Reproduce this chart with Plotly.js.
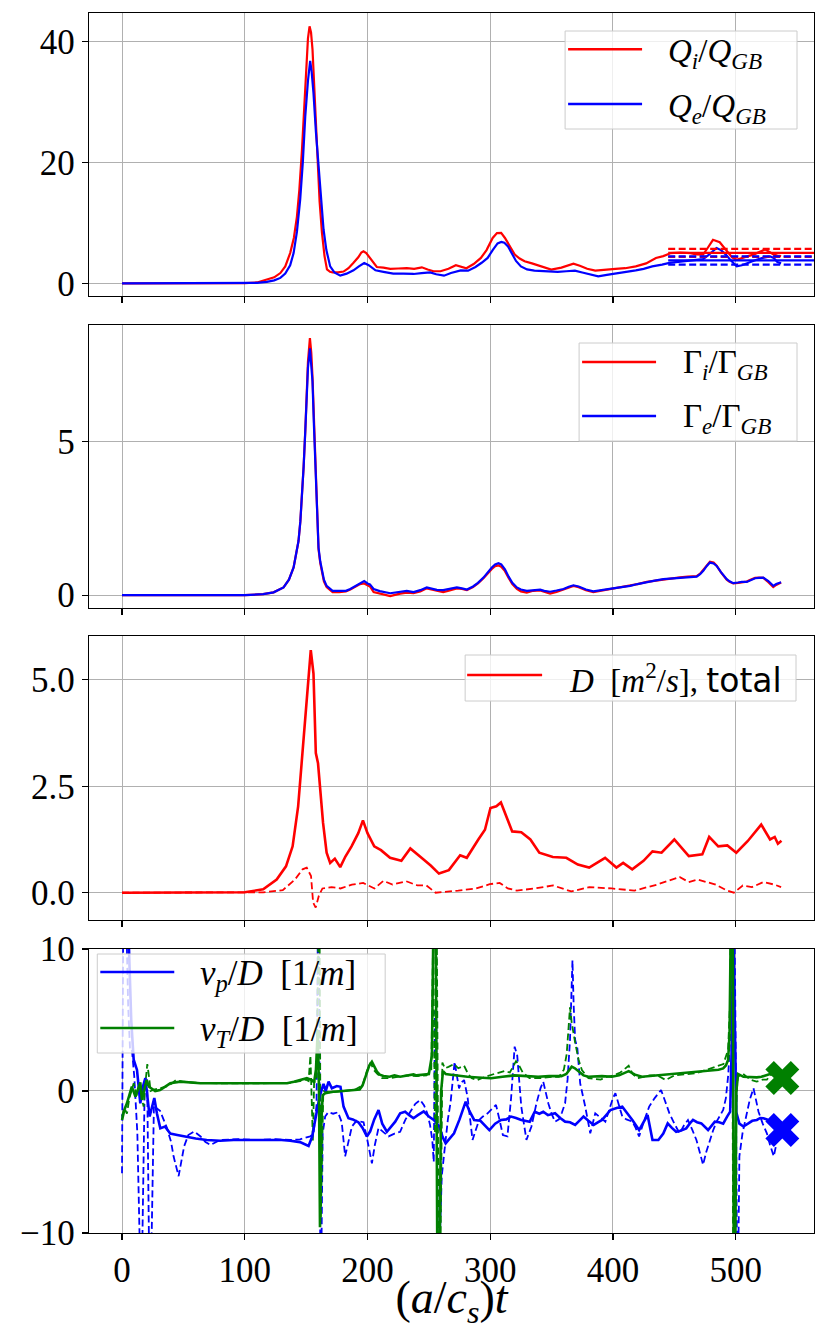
<!DOCTYPE html>
<html><head><meta charset="utf-8">
<script src="https://cdn.plot.ly/plotly-3.0.1.min.js"></script>
<style>body{margin:0;background:#fff}#chart{width:830px;height:1330px}</style>
</head><body><div id="chart"></div>
<script>
// ---------- Panel 1: heat fluxes ----------
const tQi = [0,50,100,110,118,124,129,133,137,140,142.5,144.5,146.6,148.5,150,151.5,152.8,154,155.2,157,158.8,161,162.9,165,167,169.5,171.6,176,180.5,184.5,188.6,192.5,195,196.7,199,202,205,207.6,213,218.5,225,232,238,244.3,249,253.8,259.5,266,272,276,280.6,286.5,292.4,297,302,305.5,308.9,312,316,320,324,328,334,341.5,349.7,358,363,367.8,373,379,385.6,394,402,410,418.6,427,435,441,447.3,455,463,468,473.4,477,481.5,487,490.5,493.7,497,500.8,506,510,514.5,520,524,527.5,531,534,537];
const Qi  = [0,0,0.05,0.15,0.6,1.0,1.7,2.8,5.0,7.5,11,15.5,22,29,36,40.5,42.5,41.5,38.7,31,22,13.5,8.4,4.5,2.3,1.9,1.8,1.8,1.95,2.5,3.4,4.3,5.1,5.3,5.0,4.2,3.3,2.7,2.6,2.4,2.45,2.5,2.4,2.65,2.3,2.0,2.0,2.4,3.0,2.8,2.5,3.2,4.2,5.5,7.5,8.3,8.34,7.5,6.0,4.75,4.1,3.65,3.3,2.8,2.27,2.6,2.9,3.26,2.9,2.4,2.1,2.3,2.38,2.5,2.8,3.3,4.2,4.5,5.0,5.1,5.0,4.8,4.75,5.8,7.2,6.8,5.9,5.0,4.3,3.9,4.3,4.5,4.75,5.3,5.6,5.2,4.75,4.6,4.5];
const tQe = [0,100,110,118,124,129,133,137,139.8,142.5,145.2,147.3,149.3,151.5,153.3,154.5,156,158,160,162,164.2,166.5,169.6,173,177.8,183,188.6,193,197.3,201,206.5,213,221,229,237.6,244,251,256,262.3,268,276,282,288,293,297.9,302,306,309,311.5,314.5,318,321,325,330,336,345,355,362,369,375,382,388,395,402,410,418.6,425,432,440,446,455,465,473.4,478,481.5,484.4,488,492,496,500.8,505,510,517,522,528,531,534,537];
const Qe  = [0,0.02,0.08,0.25,0.5,0.9,1.6,3.0,5.0,8.5,13.9,20,27.6,33.5,36.8,35,31.5,25,19.4,13.5,8.9,5.5,2.8,1.8,1.27,1.6,2.15,2.8,3.37,3.0,2.15,1.9,1.6,1.6,1.55,1.7,1.8,1.5,1.27,1.7,2.15,2.1,2.7,3.4,4.2,5.5,6.6,6.85,6.7,6.1,4.8,3.7,2.8,2.3,2.1,2.0,1.9,2.0,2.1,1.8,1.4,1.16,1.4,1.6,1.9,2.15,2.4,2.8,3.1,3.37,3.6,3.8,4.0,4.7,5.4,5.85,5.5,4.75,3.8,2.8,3.0,3.4,3.9,4.2,4.47,4.2,3.5,3.3];
// time-averaged levels (mean, mean+std, mean-std) over the averaging window
const tAvg = [445,564];
const QiStats = [5.03,5.70,4.37];
const QeStats = [3.81,4.47,3.10];

// ---------- Panel 2: particle fluxes ----------
const tG = [0,100,115,123.5,131.6,136,139.8,142,143.8,145.3,146.6,148,149.3,150.5,151.5,153.1,154.2,155.2,156.3,157.4,158.8,160.1,161.5,162.9,164.5,166.7,171.6,177,182.4,186,190.6,194,197.3,200,202,205,210,218.5,226.6,232,237.5,243,248.3,251,256.5,261.7,267,272.8,277,281,286,290,294.5,298,301.3,304,306.7,309,312,315,318,321.7,325,329.8,335,340.7,344,348.8,354,359.7,364,367.8,372,378,384,390,395,400,407,414,420,427.5,434,441,447,454.6,461,468.2,471,473.6,476.5,479,482,484.5,488,492.7,495,498,502,505,509,512,515.8,519,522.5,526.6,529,530.6,533,536,537];
const Ge = [0,0,0.03,0.09,0.25,0.5,0.9,1.35,1.76,2.4,3.17,4.2,5.33,6.5,7.4,8.04,7.6,6.96,5.6,4.25,2.8,1.55,1.1,0.79,0.5,0.3,0.14,0.14,0.14,0.2,0.3,0.4,0.46,0.38,0.35,0.2,0.13,0.06,0.12,0.14,0.1,0.16,0.25,0.23,0.17,0.16,0.2,0.25,0.22,0.18,0.28,0.4,0.57,0.75,0.9,1.0,1.04,1.0,0.84,0.6,0.4,0.25,0.18,0.14,0.17,0.18,0.14,0.11,0.15,0.2,0.27,0.32,0.28,0.18,0.12,0.15,0.18,0.22,0.26,0.3,0.36,0.43,0.47,0.52,0.54,0.57,0.58,0.6,0.68,0.79,0.95,1.06,1.03,0.95,0.75,0.52,0.45,0.39,0.41,0.43,0.43,0.48,0.55,0.56,0.57,0.46,0.36,0.3,0.36,0.41,0.42];
const Gi = [0,0,0.03,0.09,0.25,0.5,0.9,1.35,1.76,2.4,3.17,4.2,5.33,6.6,7.6,8.37,7.9,7.1,5.7,4.3,2.8,1.5,1.05,0.75,0.45,0.26,0.1,0.1,0.12,0.18,0.28,0.36,0.38,0.32,0.28,0.1,0.05,-0.03,0.05,0.08,0.06,0.12,0.22,0.2,0.15,0.1,0.15,0.22,0.2,0.16,0.26,0.38,0.55,0.72,0.85,0.94,0.97,0.92,0.78,0.56,0.36,0.2,0.12,0.08,0.14,0.15,0.1,0.05,0.1,0.18,0.25,0.3,0.26,0.16,0.1,0.14,0.17,0.21,0.25,0.3,0.36,0.43,0.47,0.52,0.55,0.58,0.6,0.62,0.7,0.82,0.98,1.09,1.06,0.96,0.74,0.5,0.43,0.38,0.4,0.42,0.44,0.5,0.56,0.57,0.56,0.42,0.32,0.26,0.33,0.4,0.41];

// ---------- Panel 3: diffusivity ----------
const tD = [0,50,100,115,126,133.6,139,143.5,147.1,150.9,153.8,156,157.9,159.7,161.5,163.8,166.7,169.6,173.4,177.8,182,187,192.5,196.3,200,205.5,211,218.4,227.6,234.9,244,251.5,258.2,266.3,275.5,280.9,290.3,295.7,300.2,305,308.7,312.4,317.9,325.3,332.7,340,351,362,371.4,380.6,393.6,402.8,408.3,415.7,424.9,432.2,439.6,450,461.8,472.8,478.4,485.8,493.2,500.5,509.7,520.8,528,531.8,534.4,537.3];
const Dtot = [0,0,0.01,0.08,0.31,0.62,1.09,2.03,3.36,4.76,5.70,5.15,3.28,3.04,2.42,1.64,0.94,0.70,0.80,0.60,0.85,1.09,1.4,1.70,1.4,1.09,1.0,0.82,0.75,1.04,0.82,0.64,0.45,0.53,0.88,0.82,1.25,1.48,1.99,2.03,2.12,1.86,1.44,1.42,1.25,0.94,0.84,0.82,0.66,0.59,0.82,0.59,0.70,0.55,0.75,0.97,0.94,1.25,0.86,0.90,1.31,1.09,1.11,0.94,1.21,1.60,1.25,1.31,1.15,1.22];
const tD2 = [0,50,100,115,131,140.9,147.1,150.5,154,155.7,157.8,160.4,163.3,170.7,178,187.3,196.5,205.7,213,220.4,231.5,240.7,248,255.5,273.9,288.6,299.6,307.7,314.3,321.7,336.4,351.2,366,380.7,399,417.5,435.9,454.3,461.7,469,483.7,492.9,498.5,505.8,513.2,522.4,531.6,537];
const Dpart = [0,0,0,0.01,0.06,0.31,0.55,0.59,0.39,-0.23,-0.35,-0.07,0.1,0.13,0.1,0.19,0.23,0.1,0.28,0.19,0.27,0.17,0.17,0.0,0.05,0.1,0.2,0.23,0.1,0.05,0.1,0.17,0.03,0.13,0.1,0.05,0.19,0.37,0.25,0.31,0.19,0.05,0.0,0.17,0.13,0.25,0.19,0.13];

// ---------- Panel 4: pinch velocities ----------
const tVp = [0,1.5,3.5,5.5,7.5,9.5,12.2,14.9,17,19,22.5,26.3,28.5,31.2,35,39.3,45,50,60,69,80,90.9,105,118,130,137,145,152,155,157.4,159,161,164.2,166,168.3,171,175,178,180.5,184.5,188,192.6,196,199.5,202.2,205.5,209,212,215.8,219,222.6,226.6,230.7,234,237.5,241,245.8,250,254,258.6,261,263.7,267,270.5,275,280,283,286.9,292,295,299.3,304,308.9,313,317,321,325.3,332.2,336.3,340,343.2,347,352.8,357,361,365,369.2,372.5,376,380,384.3,388,391.1,394.5,398,403,407.6,411,415.8,421.3,425,428.2,432.2,437,441,444.6,448,451.5,455,459.7,462.5,465.2,468.5,472,477.5,480.5,483,486.5,489.8,493,495.5,497,498,499,500.5,503,506.3,510,513.5,517.2,520,522.6,525.5,528,531,534,537];
const Vp = [12,14,13,10.5,5,2.2,1.48,-0.87,0.3,0.9,-1.8,-0.5,-1.6,-2.63,-2.5,-3.0,-3.1,-3.2,-3.35,-3.45,-3.5,-3.45,-3.45,-3.4,-3.45,-3.5,-3.6,-3.87,-3.2,-2.04,-1.3,-0.4,0.5,0.0,0.66,0.19,0.35,0.3,-1.1,-1.92,-2.0,-2.2,-2.6,-3.2,-2.84,-2.0,-1.34,-2.3,-2.87,-2.5,-2.16,-1.57,-1.46,-1.7,-1.92,-1.7,-1.43,-1.8,-2.04,-2.5,-3.2,-3.68,-3.3,-2.98,-2.0,-0.75,-1.4,-2.04,-2.1,-2.4,-2.75,-2.3,-2.04,-2.0,-1.8,-1.9,-2.04,-2.16,-1.46,-1.6,-1.46,-1.7,-1.57,-1.9,-2.16,-2.2,-2.39,-2.1,-1.8,-2.1,-2.39,-2.2,-2.04,-1.7,-1.34,-1.2,-1.1,-1.5,-2.04,-2.75,-2.2,-1.69,-3.45,-3.45,-3.0,-2.28,-2.6,-2.87,-2.8,-2.63,-2.3,-2.04,-2.2,-2.28,-2.75,-2.4,-2.16,-2.2,-2.3,-1.8,-1.46,4,12,6,-1.5,-2.3,-2.5,-2.3,-2.1,-2.04,-1.9,-1.92,-2.0,-2.16,-2.4,-2.6,-2.7];
const tVp2 = [0,1,3,5,6.5,8,10,12.5,14.5,16.5,18.5,20.5,22,24,26,27.9,31,36.6,40,42,46.1,48.5,50.6,54,58.8,64,68,72,76,80,95,110,125,137,145,150,153.3,156,158.5,159.5,160.5,161.5,162.5,163.5,165.5,168,172,176,179,181.8,184,187.3,191,196.8,200,203.6,206,209,213,217.2,222,226.6,231,235,239,243,246,248.7,251,252.8,254,255,256,257.2,258.8,260.5,263.7,265.5,267.7,271,273,274.6,276.5,278.7,281.5,283.5,285.6,288,291,294,297.9,301,304.7,307.5,310.3,314,317,319.9,322,325.3,329.5,333.6,337.7,341,343.2,345,347.3,350,352.8,356,358.5,361,363,365,366,367,368,369.2,371,373.3,377.4,379.5,381.5,385.6,389,393.8,397,400,402,404.5,407.6,411,415.8,418.5,421.3,425,429.5,434,439.2,442,446,450,454.3,458,461.1,464.5,468,471,473.4,476,478.9,481.5,484.4,487,489.8,492,494,496.6,498,499,500,501,502.2,503,505.5,508.5,511.5,514.5,516.5,518.6,522,525.4,528,531,533];
const Vp2 = [-5.8,12,14,6,3,3,1,-3,-11,-11,0.5,0.8,-11,-11,-1,-1.2,-1.4,-2.6,-3.6,-4.6,-6.0,-5.0,-3.9,-3.1,-2.85,-3.2,-3.6,-3.8,-3.6,-3.45,-3.4,-3.45,-3.4,-3.45,-3.4,-3.3,-3.2,-3.0,-1,11,11,-11,-11,-3,-1.8,-1.5,-1.6,-1.5,-2.2,-4.6,-3.8,-2.5,-2.1,-2.2,-3.5,-5.1,-3.8,-2.6,-2.9,-3.2,-3.0,-2.87,-2.0,-1.46,-0.9,-0.63,-1.0,-1.57,-2.4,-3.45,-5,5.6,5.6,-11,-11,-6,-3.45,-2,-0.8,2.06,1.0,0.19,0.6,0.77,-0.4,-2.0,-3.45,-2.8,-2.04,-1.8,-1.57,-1.3,-0.98,-2.0,-3.1,-3.2,-0.5,3.12,2.5,-1.1,-3.45,-2.5,-0.86,0.2,0.66,0.0,-0.86,-1.6,-2.16,-2.0,-1.5,-0.86,0.8,3.6,6,9.2,6,3.6,3.0,0.54,-1.1,-2.2,-2.98,-1.57,-1.8,-2.16,-1.3,-0.5,-0.16,-0.9,-1.8,-2.0,-2.16,-2.6,-3.2,-2.2,-1.1,-0.5,0.07,-0.6,-1.57,-2.3,-2.98,-2.4,-2.04,-2.7,-3.45,-4.4,-5.2,-4.3,-3.45,-2.8,-2.16,-1.8,-1.34,-0.5,1.2,5.9,9,12,3,-11,-11,-4.6,-3.0,-1.8,-0.6,0.19,-0.6,-1.46,-2.3,-2.98,-3.8,-4.6,-3.8];
const tVT = [0,2,4,6,8,11,13,14.9,16.2,18,20,22,24,27,31,35,39.3,47.5,55,63.8,80,100,120,134.5,140,145.3,150.6,154.7,156.5,158,159.5,160.5,161.3,162.5,163.5,165.5,172,180,187,193.6,196,199.5,201.5,203.6,205.5,207.7,210,213,218,222,226.6,232,237.5,240,245,250,252.5,254,255.5,257,258.5,260,261.5,263.7,268,272,277,281.5,290,300.7,310,319.8,330,339,348,358,362,366.4,369,372,376,380,386,391,399,405,412.8,418,423.7,430,440,450,459.7,466,473.3,480,486,489.8,492,493.8,495,496.3,497.5,498.5,499.5,500.5,502,506.3,512,517.2,521,525.4,528,531,535,537];
const VT = [-2.04,-1.3,-0.87,-0.2,0.3,-0.4,0.2,0.6,-0.63,0.1,0.77,0.3,0.19,0.0,0.07,0.3,0.54,0.66,0.6,0.55,0.54,0.54,0.54,0.54,0.65,0.77,0.9,0.77,0.6,1.5,4.3,0,-9.6,-2,-0.3,-0.16,-0.05,0.0,0.05,0.1,0.4,1.36,1.8,2.06,1.7,1.36,1.15,1.05,1.0,1.1,1.0,1.1,1.17,1.1,1.15,1.2,2.5,14,14,-14,-14,0,1.4,1.2,1.15,1.1,1.05,1.0,0.95,0.9,1.0,1.1,1.05,1.0,1.05,1.05,1.2,1.71,1.6,1.4,1.1,1.0,1.05,1.05,1.0,1.1,1.4,1.15,1.0,1.05,1.1,1.2,1.27,1.3,1.36,1.45,1.5,1.59,1.8,2.18,4,14,14,-14,-14,0,1.2,1.0,0.98,0.96,1.0,1.1,1.2,1.2,1.3,1.3];
const tVT2 = [0,2,4,6,9.5,12,14,17.6,19,20.6,22,23.3,26,30,35.8,40,44,50,60,80,100,120,135,145,150,152,153.5,154.5,155.5,156.5,158.5,160,161,162,163,164,170,180,190,196,199.5,202.5,205,208,212,218,225,232,240,248,252,253.5,255,256.5,258,259.5,261,263,266,270.5,274,278.7,282,285,289.6,296,303.3,311.5,316,321,323.5,326.5,332,340,350,356,360,362.3,365,366.4,369.2,372,374.7,380,390,395,400.6,406,412.8,416,420,430,436,443,450,460,468,473,478.9,484,490,493.8,495.3,496,497,498,499,500,501.5,506,512,517,522,525.4,531,535];
const VT2 = [-1.8,-1.2,-1.6,-0.5,0.54,-0.3,0.3,-1.1,0.5,1.9,1.0,0.0,0.1,0.2,0.3,0.5,0.77,0.65,0.58,0.54,0.55,0.55,0.55,0.7,0.8,0.7,2.5,-0.5,-3.5,0.6,0.8,11,11,-9,-3,0.0,-0.1,0.0,0.1,0.4,1.4,2.0,1.5,1.2,0.9,0.9,1.0,1.1,1.05,1.1,1.5,11,-3,11,-11,-11,2,1.6,1.7,1.9,1.6,1.78,1.2,0.9,0.77,1.0,1.2,1.4,1.3,2.1,1.8,1.3,0.9,0.9,1.0,1.0,1.5,2.6,5.9,4.8,3.4,2.2,1.47,0.9,0.8,1.0,1.1,1.3,1.78,1.2,0.9,1.1,1.1,0.77,1.1,1.2,1.25,1.4,1.59,1.7,1.9,2.9,6,14,14,-14,-14,-2,1.0,1.2,0.8,0.66,0.8,0.8,1.36,1.2];
// final-time values (crosses)
const tEnd = [538];
const VpEnd = [-2.75];
const VTEnd = [0.92];

// tick values / labels
const xTicks = [0,100,200,300,400,500];
const xTickText = ['0','100','200','300','400','500'];
const y1Ticks = [0,20,40], y1Text = ['0','20','40'];
const y2Ticks = [0,5], y2Text = ['0','5'];
const y3Ticks = [0,2.5,5], y3Text = ['0.0','2.5','5.0'];
const y4Ticks = [-10,0,10], y4Text = ['\u221210','0','10'];

// legend labels
const lab = {
  Qi: '<i>Q<sub>i</sub></i>/<i>Q<sub>GB</sub></i>',
  Qe: '<i>Q<sub>e</sub></i>/<i>Q<sub>GB</sub></i>',
  Gi: '\u0393<sub><i>i</i></sub>/\u0393<sub><i>GB</i></sub>',
  Ge: '\u0393<sub><i>e</i></sub>/\u0393<sub><i>GB</i></sub>',
  D: "<i>D</i>  [<i>m</i><sup>2</sup>/<i>s</i>], <span style='font-family:DejaVu Sans'>total</span>",
  Vp: '<i>v<sub>p</sub></i>/<i>D</i>  [1/<i>m</i>]',
  VT: '<i>v<sub>T</sub></i>/<i>D</i>  [1/<i>m</i>]'
};

const RED='#ff0000', BLUE='#0000ff', GREEN='#008000';
const DASH='7px,3.5px';
function line(x,y,color,opts){
  return Object.assign({x:x,y:y,type:'scatter',mode:'lines',line:{color:color,width:2.2},showlegend:false,hoverinfo:'skip'},opts||{});
}
const traces=[];
// panel 1
traces.push(line(tQi,Qi,RED,{xaxis:'x',yaxis:'y'}));
traces.push(line(tQe,Qe,BLUE,{xaxis:'x',yaxis:'y'}));
QiStats.forEach((v,i)=>traces.push(line(tAvg,[v,v],RED,{xaxis:'x',yaxis:'y',line:{color:RED,width:2.2,dash:i===0?'solid':DASH}})));
QeStats.forEach((v,i)=>traces.push(line(tAvg,[v,v],BLUE,{xaxis:'x',yaxis:'y',line:{color:BLUE,width:2.2,dash:i===0?'solid':DASH}})));
// panel 2
traces.push(line(tG,Gi,RED,{xaxis:'x2',yaxis:'y2'}));
traces.push(line(tG,Ge,BLUE,{xaxis:'x2',yaxis:'y2'}));
// panel 3
traces.push(line(tD2,Dpart,RED,{xaxis:'x3',yaxis:'y3',line:{color:RED,width:1.8,dash:DASH}}));
traces.push(line(tD,Dtot,RED,{xaxis:'x3',yaxis:'y3',line:{color:RED,width:2.6}}));
// panel 4
traces.push(line(tVp2,Vp2,BLUE,{xaxis:'x4',yaxis:'y4',line:{color:BLUE,width:1.8,dash:DASH}}));
traces.push(line(tVT2,VT2,GREEN,{xaxis:'x4',yaxis:'y4',line:{color:GREEN,width:1.8,dash:DASH}}));
traces.push(line(tVp,Vp,BLUE,{xaxis:'x4',yaxis:'y4',line:{color:BLUE,width:2.6}}));
traces.push(line(tVT,VT,GREEN,{xaxis:'x4',yaxis:'y4',line:{color:GREEN,width:2.6}}));
traces.push({x:tEnd,y:VpEnd,xaxis:'x4',yaxis:'y4',type:'scatter',mode:'markers',marker:{symbol:'x',size:30,color:BLUE,line:{width:0}},showlegend:false,hoverinfo:'skip'});
traces.push({x:tEnd,y:VTEnd,xaxis:'x4',yaxis:'y4',type:'scatter',mode:'markers',marker:{symbol:'x',size:30,color:GREEN,line:{width:0}},showlegend:false,hoverinfo:'skip'});

const TF={family:'Liberation Serif, serif',size:35,color:'#000'};
function xax(show){
  return {range:[-26.9,563.8],tickmode:'array',tickvals:xTicks,ticktext:xTickText,showticklabels:show,
    ticks:'outside',ticklen:6,tickwidth:1.2,tickcolor:'#000',showline:true,linecolor:'#000',linewidth:1.3,mirror:true,
    showgrid:true,gridcolor:'#b0b0b0',gridwidth:1,zeroline:false,tickfont:TF};
}
function yax(dom,rng,tv,tt){
  return {domain:dom,range:rng,tickmode:'array',tickvals:tv,ticktext:tt,ticks:'outside',ticklen:6,tickwidth:1.2,tickcolor:'#000',
    showline:true,linecolor:'#000',linewidth:1.3,mirror:true,showgrid:true,gridcolor:'#b0b0b0',gridwidth:1,zeroline:false,tickfont:TF};
}

// ---- legend boxes (drawn as layout decorations, matplotlib style) ----
const ML=88.7, MR=16, MT=13, MB=97, W=830, H=1330;
const PW=W-ML-MR, PH=H-MT-MB;
const px2x = p => (p-ML)/PW;
const py2y = p => (H-MB-p)/PH;
const shapes=[], annotations=[];
function legendBox(x0,y0,x1,y1,items,fs){
  shapes.push({type:'rect',xref:'paper',yref:'paper',x0:px2x(x0),x1:px2x(x1),y0:py2y(y1),y1:py2y(y0),
    fillcolor:'rgba(255,255,255,0.8)',line:{color:'#cccccc',width:1},layer:'above'});
  items.forEach(it=>{
    shapes.push({type:'line',xref:'paper',yref:'paper',x0:px2x(it.lx0),x1:px2x(it.lx1),y0:py2y(it.ly),y1:py2y(it.ly),
      line:{color:it.color,width:2.6},layer:'above'});
    annotations.push({xref:'paper',yref:'paper',x:px2x(it.tx),y:py2y(it.ty),xanchor:'left',yanchor:'middle',showarrow:false,
      text:it.text,font:{family:'Liberation Serif, serif',size:fs,color:'#000'}});
  });
}
legendBox(565,31,797,129,[
  {color:RED,lx0:568,lx1:642,ly:49.3,tx:666,ty:53,text:lab.Qi},
  {color:BLUE,lx0:568,lx1:642,ly:104,tx:666,ty:108,text:lab.Qe}],33);
legendBox(579,343,797,441,[
  {color:RED,lx0:582,lx1:656,ly:362,tx:681,ty:365,text:lab.Gi},
  {color:BLUE,lx0:582,lx1:656,ly:416,tx:681,ty:419,text:lab.Ge}],33);
legendBox(465,655,796,701,[
  {color:RED,lx0:467,lx1:542,ly:675,tx:567,ty:678,text:lab.D}],33);
legendBox(97,954,385,1053,[
  {color:BLUE,lx0:100,lx1:174,ly:972,tx:198,ty:975,text:lab.Vp},
  {color:GREEN,lx0:100,lx1:174,ly:1028,tx:198,ty:1031,text:lab.VT}],35);

const layout={
  width:W,height:H,paper_bgcolor:'#fff',plot_bgcolor:'#fff',
  margin:{l:ML,r:MR,t:MT,b:MB},
  showlegend:false,
  xaxis:Object.assign(xax(false),{anchor:'y'}),
  xaxis2:Object.assign(xax(false),{anchor:'y2'}),
  xaxis3:Object.assign(xax(false),{anchor:'y3'}),
  xaxis4:Object.assign(xax(true),{anchor:'y4',title:{text:'(<i>a</i>/<i>c<sub>s</sub></i>)<i>t</i>',font:{family:'Liberation Serif, serif',size:46,color:'#000'},standoff:16}}),
  yaxis:Object.assign(yax([0.7680,1],[-2.1,44.7],y1Ticks,y1Text),{anchor:'x'}),
  yaxis2:Object.assign(yax([0.5123,0.7443],[-0.42,8.8],y2Ticks,y2Text),{anchor:'x2'}),
  yaxis3:Object.assign(yax([0.2566,0.4893],[-0.64,6.03],y3Ticks,y3Text),{anchor:'x3'}),
  yaxis4:Object.assign(yax([0,0.2328],[-10,10],y4Ticks,y4Text),{anchor:'x4'}),
  shapes:shapes, annotations:annotations
};
Plotly.newPlot('chart',traces,layout,{staticPlot:true});
</script></body></html>
